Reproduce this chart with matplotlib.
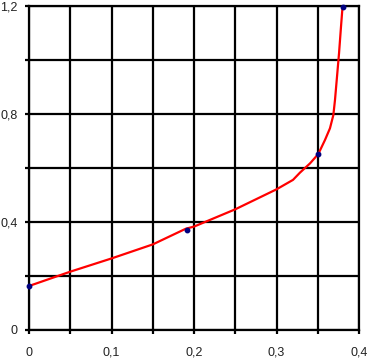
"""Recreate the red curve on a black grid."""

import matplotlib

matplotlib.use("Agg")

import matplotlib.pyplot as plt
from matplotlib.ticker import FuncFormatter, MultipleLocator

# curve
curve_x = [0.0, 0.05, 0.10, 0.15, 0.19, 0.20, 0.25, 0.30, 0.32, 0.3285,
           0.3406, 0.3507, 0.3588, 0.3648, 0.3689, 0.3709, 0.373, 0.3758,
           0.3782, 0.380]
curve_y = [0.163, 0.216, 0.265, 0.317, 0.375, 0.383, 0.447, 0.521, 0.556,
           0.583, 0.617, 0.652, 0.704, 0.747, 0.796, 0.852, 0.926, 1.025,
           1.124, 1.195]

# measured points
point_x = [0.0, 0.191, 0.3507, 0.380]
point_y = [0.163, 0.372, 0.652, 1.195]


def comma(step):
    def fmt(v, _pos):
        if abs(v) < 1e-9:
            return "0"
        k = round(v / step, 6)
        if abs(k - round(k)) > 1e-6:
            return ""
        return f"{v:.1f}".replace(".", ",")
    return FuncFormatter(fmt)


plt.rcParams.update({"font.family": ["Liberation Sans", "DejaVu Sans"], "font.size": 9})

fig = plt.figure(figsize=(3.71, 3.63), dpi=100)
ax = fig.add_axes([29 / 371, 33 / 363, 330 / 371, 324 / 363])

ax.plot(curve_x, curve_y, color="#ff0000", linewidth=1.6, zorder=3)
ax.plot(point_x, point_y, linestyle="none", marker="o", markersize=3.2,
        color="#000080", zorder=4, clip_on=False)

ax.set_xlim(0, 0.4)
ax.set_ylim(0, 1.2)
ax.xaxis.set_major_locator(MultipleLocator(0.05))
ax.yaxis.set_major_locator(MultipleLocator(0.2))
ax.xaxis.set_major_formatter(comma(0.1))
ax.yaxis.set_major_formatter(comma(0.4))
ax.grid(color="black", linewidth=1.6)
ax.set_axisbelow(True)
for s in ax.spines.values():
    s.set_linewidth(1.6)
ax.tick_params(axis="both", length=3, width=1.6, direction="out", colors="black")
ax.tick_params(axis="x", pad=9)
ax.tick_params(axis="y", pad=5)
ax.tick_params(labelcolor="#222222")

fig.savefig("out.png", dpi=100)
